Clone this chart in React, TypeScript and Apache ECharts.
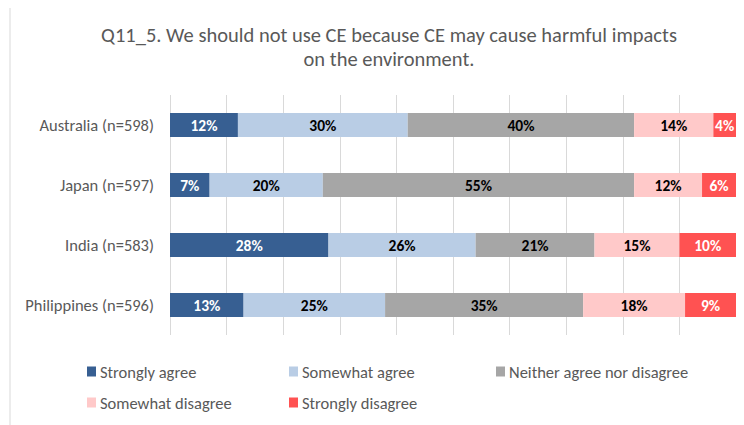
import React, { useEffect, useRef } from "react";
import * as echarts from "echarts";

const titleLines = [
  "Q11_5. We should not use CE because CE may cause harmful impacts",
  "on the environment.",
];
const categories = [
  "Australia (n=598)",
  "Japan (n=597)",
  "India (n=583)",
  "Philippines (n=596)",
];
const seriesNames = [
  "Strongly agree",
  "Somewhat agree",
  "Neither agree nor disagree",
  "Somewhat disagree",
  "Strongly disagree",
];
const stronglyAgree = [12, 7, 28, 13];
const somewhatAgree = [30, 20, 26, 25];
const neither = [40, 55, 21, 35];
const somewhatDisagree = [14, 12, 15, 18];
const stronglyDisagree = [4, 6, 10, 9];

const seriesValues = [stronglyAgree, somewhatAgree, neither, somewhatDisagree, stronglyDisagree];
const colors = ["#375F92", "#B9CDE5", "#A6A6A6", "#FFC9C9", "#FF5252"];
const labelColors = ["#ffffff", "#000000", "#000000", "#000000", "#ffffff"];
const legendPos = [
  { left: 87, top: 363 },
  { left: 289, top: 363 },
  { left: 496, top: 363 },
  { left: 87, top: 394 },
  { left: 289, top: 394 },
];

const FONT = "Carlito, Lato, 'Liberation Sans', sans-serif";

export default function App() {
  const ref = useRef<HTMLDivElement>(null);
  useEffect(() => {
    if (!ref.current) return;
    const chart = echarts.init(ref.current, undefined, { renderer: "svg" });
    chart.setOption({
      animation: false,
      textStyle: { fontFamily: FONT },
      title: {
        text: titleLines.join("\n"),
        left: 384,
        top: 18,
        textAlign: "center",
        textStyle: {
          fontFamily: FONT,
          fontSize: 20.5,
          fontWeight: "normal",
          color: "#595959",
          lineHeight: 24,
        },
      },
      graphic: [
        {
          type: "polyline",
          shape: { points: [[10, 425], [10, 6.5], [744, 6.5]] },
          style: { stroke: "#d9d9d9", fill: "none", lineWidth: 1 },
        },
      ],
      legend: seriesNames.map((n, i) => ({
        data: [n],
        left: legendPos[i].left,
        top: legendPos[i].top,
        padding: 0,
        itemWidth: 9,
        itemHeight: 10,
        icon: "rect",
        textStyle: { fontFamily: FONT, fontSize: 16.5, color: "#595959", padding: [0, 0, 0, -1] },
      })),
      grid: { left: 170, right: 8, top: 95, height: 240 },
      xAxis: {
        type: "value",
        min: 0,
        max: 100,
        interval: 10,
        axisLabel: { show: false },
        axisLine: { show: false },
        axisTick: { show: false },
        splitLine: { show: true, lineStyle: { color: "#d9d9d9", width: 1 } },
      },
      yAxis: {
        type: "category",
        inverse: true,
        data: categories,
        axisLine: { show: false },
        axisTick: { show: false },
        axisLabel: { fontFamily: FONT, fontSize: 16.5, color: "#595959", margin: 16 },
      },
      series: seriesNames.map((n, i) => ({
        name: n,
        type: "bar",
        stack: "total",
        barWidth: 24,
        data: seriesValues[i],
        itemStyle: { color: colors[i] },
        label: {
          show: true,
          position: "inside",
          formatter: "{c}%",
          fontFamily: FONT,
          fontSize: 15.5,
          fontWeight: "bold",
          color: labelColors[i],
        },
      })),
    });
    return () => chart.dispose();
  }, []);
  return <div ref={ref} style={{ width: 744, height: 425, marginLeft: -8, marginTop: -8 }} />;
}
